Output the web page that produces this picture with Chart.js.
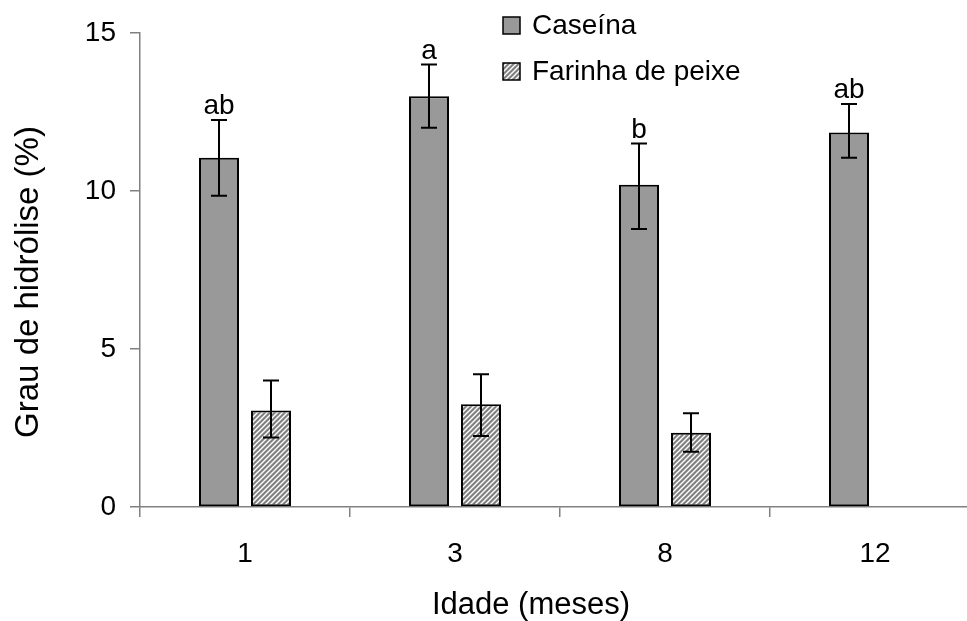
<!DOCTYPE html>
<html>
<head>
<meta charset="utf-8">
<script src="https://cdn.jsdelivr.net/npm/chart.js@4"></script>
<style>
html, body { margin: 0; padding: 0; background: #fff; overflow: hidden; }
#wrap { width: 980px; height: 621px; }
</style>
</head>
<body>
<div id="wrap"><canvas id="chart" width="980" height="621"></canvas></div>
<script>
// data
const ages = ["1", "3", "8", "12"];
const seriesNames = ["Caseína", "Farinha de peixe"];
const caseina = [11.05, 13.0, 10.2, 11.85];
const caseinaLow = [9.85, 12.0, 8.8, 11.05];
const caseinaHigh = [12.25, 14.0, 11.5, 12.75];
const farinha = [3.05, 3.25, 2.35, null];
const farinhaLow = [2.2, 2.25, 1.75, null];
const farinhaHigh = [4.0, 4.2, 2.97, null];
const letters = ["ab", "a", "b", "ab"];
const yTicks = [0, 5, 10, 15];
const xTitle = "Idade (meses)";
const yTitle = "Grau de hidrólise (%)";

const FONT = "'Liberation Sans', Arial, sans-serif";
const GRAY = "#999999";

// diagonal hatch for the second series
function hatch() {
  const c = document.createElement("canvas");
  c.width = 5;
  c.height = 5;
  const g = c.getContext("2d");
  g.fillStyle = "#808080";
  g.fillRect(0, 0, 5, 5);
  g.strokeStyle = "#ffffff";
  g.lineWidth = 1.4;
  g.beginPath();
  g.moveTo(-1, 6); g.lineTo(6, -1);
  g.moveTo(-3.5, 3.5); g.lineTo(3.5, -3.5);
  g.moveTo(1.5, 8.5); g.lineTo(8.5, 1.5);
  g.stroke();
  return g.createPattern(c, "repeat");
}
const hatchFill = hatch();

const bounds = [
  { low: caseinaLow, high: caseinaHigh },
  { low: farinhaLow, high: farinhaHigh },
];

const errorBars = {
  id: "errorBars",
  afterDatasetsDraw(chart) {
    const ctx = chart.ctx;
    const y = chart.scales.y;
    ctx.save();
    ctx.strokeStyle = "#000";
    ctx.lineWidth = 2;
    chart.data.datasets.forEach((ds, i) => {
      const meta = chart.getDatasetMeta(i);
      meta.data.forEach((bar, j) => {
        const lo = bounds[i].low[j];
        const hi = bounds[i].high[j];
        if (lo == null || hi == null) return;
        const x = Math.round(bar.x);
        const y1 = y.getPixelForValue(lo);
        const y2 = y.getPixelForValue(hi);
        ctx.beginPath();
        ctx.moveTo(x, y1); ctx.lineTo(x, y2);
        ctx.moveTo(x - 8, y1); ctx.lineTo(x + 8, y1);
        ctx.moveTo(x - 8, y2); ctx.lineTo(x + 8, y2);
        ctx.stroke();
        if (i === 0) {
          ctx.fillStyle = "#000";
          ctx.font = "28px " + FONT;
          ctx.textAlign = "center";
          ctx.textBaseline = "alphabetic";
          ctx.fillText(letters[j], x, y2 - 6);
        }
      });
    });
    ctx.restore();
  },
};

const sideLegend = {
  id: "sideLegend",
  afterDraw(chart) {
    const ctx = chart.ctx;
    ctx.save();
    ctx.font = "28px " + FONT;
    ctx.textBaseline = "middle";
    ctx.textAlign = "left";
    chart.data.datasets.forEach((ds, i) => {
      const top = 17 + i * 46;
      ctx.fillStyle = ds.backgroundColor;
      ctx.fillRect(503, top, 17, 17);
      ctx.strokeStyle = "#000";
      ctx.lineWidth = 1.5;
      ctx.strokeRect(503, top, 17, 17);
      ctx.fillStyle = "#000";
      ctx.fillText(ds.label, 532, top + 9);
    });
    // axis titles, placed as in the original
    ctx.font = "31px " + FONT;
    ctx.textAlign = "center";
    ctx.fillText(xTitle, 531, 605);
    ctx.translate(29, 282);
    ctx.rotate(-Math.PI / 2);
    ctx.font = "33px " + FONT;
    ctx.fillText(yTitle, 0, 0);
    ctx.restore();
  },
};

new Chart(document.getElementById("chart"), {
  type: "bar",
  data: {
    labels: ages,
    datasets: [
      {
        label: seriesNames[0],
        data: caseina,
        backgroundColor: GRAY,
        borderColor: "#000",
        borderWidth: 2,
        borderSkipped: false,
        categoryPercentage: 0.495,
        barPercentage: 0.77,
      },
      {
        label: seriesNames[1],
        data: farinha,
        backgroundColor: hatchFill,
        borderColor: "#000",
        borderWidth: 2,
        borderSkipped: false,
        categoryPercentage: 0.495,
        barPercentage: 0.77,
      },
    ],
  },
  options: {
    responsive: false,
    animation: false,
    devicePixelRatio: 1,
    layout: { padding: { left: 0, top: 33, right: 0, bottom: 0 } },
    plugins: {
      legend: { display: false },
      tooltip: { enabled: false },
    },
    scales: {
      x: {
        afterFit(s) { s.height = 114; },
        grid: {
          offset: true,
          drawOnChartArea: false,
          drawTicks: true,
          tickLength: 10,
          color: "#808080",
          lineWidth: 1.5,
        },
        border: { color: "#808080", width: 1.5 },
        ticks: {
          color: "#000",
          font: { family: FONT, size: 28 },
          padding: 20,
        },
      },
      y: {
        min: 0,
        max: 15,
        afterFit(s) { s.width = 140; },
        afterBuildTicks(s) { s.ticks = yTicks.map((v) => ({ value: v })); },
        grid: {
          drawOnChartArea: false,
          drawTicks: true,
          tickLength: 10,
          color: "#808080",
          lineWidth: 1.5,
        },
        border: { color: "#808080", width: 1.5 },
        ticks: {
          color: "#000",
          font: { family: FONT, size: 28 },
          padding: 14,
        },
      },
    },
  },
  plugins: [errorBars, sideLegend],
});
</script>
</body>
</html>
